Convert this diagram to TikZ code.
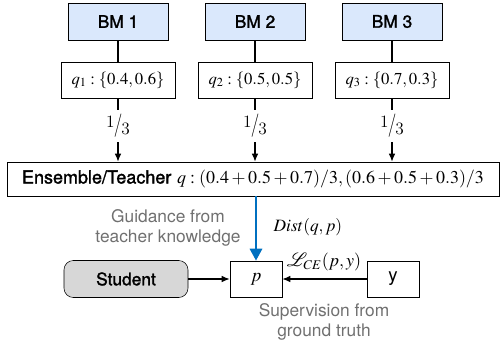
\documentclass[tikz,border=0pt]{standalone}
\usepackage{mathptmx}
\usepackage{mathrsfs}
\usepackage[no-math]{fontspec}
\setsansfont{TeX Gyre Heros}
\newfontfamily\medsans[FakeBold=1.6]{TeX Gyre Heros}
\usetikzlibrary{arrows.meta,
    positioning}

\definecolor{bmblue}{RGB}{218,232,252}
\definecolor{studgray}{RGB}{215,215,215}
\definecolor{guideblue}{RGB}{0,112,192}
\definecolor{notegray}{RGB}{112,112,112}

\newcommand{\third}{\raisebox{0.45ex}{1}\kern-0.05em\raisebox{-0.1ex}{\scalebox{1}[1.35]{/}}\kern-0.05em\raisebox{-0.45ex}{3}}

\tikzset{
    bmbox/.style={draw, thin, fill=bmblue, minimum width=75pt, minimum height=28pt,
        font=\medsans\fontsize{13}{14}\selectfont},
    probbox/.style={draw, thin, minimum width=85.5pt, minimum height=27pt,
        font=\fontsize{12.5}{14}\selectfont},
    smallbox/.style={draw, thin, minimum width=39pt, minimum height=27pt,
        font=\fontsize{14}{16}\selectfont},
    note/.style={align=center, text=notegray, font=\sffamily\fontsize{13}{14.5}\selectfont},
    weight/.style={font=\fontsize{13}{15}\selectfont},
    link/.style={line width=1pt},
    arr/.style={line width=1pt, -{Latex[length=6pt,width=5pt]}}
}

\begin{document}
\begin{tikzpicture}[x=0.75pt, y=-0.75pt]
    \useasboundingbox (0,0) rectangle (500,343);
    % base models and their outputs
    \node[bmbox] (bm1) at (118,21.5) {BM 1};
    \node[bmbox] (bm2) at (255,21.5) {BM 2};
    \node[bmbox] (bm3) at (392,21.5) {BM 3};
    \node[probbox] (q1) at (118,80) {$q_1: \{0.4, 0.6\}$};
    \node[probbox] (q2) at (255,80) {$q_2: \{0.5, 0.5\}$};
    \node[probbox] (q3) at (392,80) {$q_3: \{0.7, 0.3\}$};
    \node[weight] (w1) at (118,126) {\third};
    \node[weight] (w2) at (255,126) {\third};
    \node[weight] (w3) at (392,126) {\third};
    % teacher
    \node[draw, thin, minimum width=369pt, minimum height=25.5pt,
        font=\fontsize{13.5}{15}\selectfont] (ens) at (253,179)
        {{\medsans Ensemble/Teacher} $q: (0.4+0.5+0.7)/3, (0.6+0.5+0.3)/3$};
    % student side
    \node[smallbox] (p) at (256,279) {$p$};
    \node[draw, thin, rounded corners=7pt, fill=studgray, minimum width=93pt,
        minimum height=27.75pt, font=\medsans\fontsize{13}{14}\selectfont] (stud) at (126,279) {Student};
    \node[smallbox, font=\sffamily\fontsize{14}{16}\selectfont] (y) at (393,279) {y};
    \node[note] (guide) at (168,228) {Guidance from\\teacher knowledge};
    \node[note] (superv) at (324,322) {Supervision from\\ground truth};
    \node[anchor=west, font=\fontsize{13}{15}\selectfont] (dist) at (269,227) {$Dist(q,p)$};
    \node[font=\fontsize{13.5}{15}\selectfont] (lce) at (324,262) {$\mathscr{L}_{CE}(p,y)$};

    \foreach \i in {1,2,3} {
        \draw[link] (bm\i) -- (q\i);
        \draw[link] (q\i.south) -- (q\i.south |- w\i.north);
        \draw[arr] (q\i.south |- w\i.south) -- (q\i.south |- ens.north);
    }
    \draw[line width=2.2pt, guideblue, -{Triangle[length=9pt,width=9pt]}] (p |- ens.south) -- (p.north);
    \draw[arr] (stud) -- (p);
    \draw[arr] (y) -- (p);
\end{tikzpicture}
\end{document}
